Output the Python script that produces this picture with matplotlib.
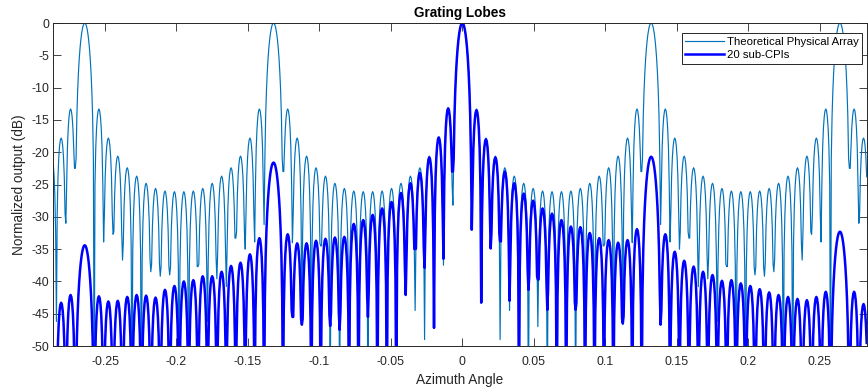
import numpy as np
import matplotlib
matplotlib.use('Agg')
import matplotlib.pyplot as plt

plt.rcParams['font.family'] = ['Liberation Sans', 'DejaVu Sans']
plt.rcParams['axes.unicode_minus'] = False

# ------------------------- #
# Data (dB)
# ------------------------- #

# lobe grid: grating lobes every 0.1321, 20 null spacings between them
grating_step = 0.1321
nulls_per_grating = 20

# physical array: sidelobe peaks between two neighbouring main/grating lobes
phys_sidelobe_db = [-13.3, -17.8, -20.6, -22.4, -23.7, -24.8, -25.6, -26.0, -26.1,
                    -26.1, -26.0, -25.6, -24.8, -23.7, -22.4, -20.6, -17.8, -13.3]

# physical array: depth of nulls 1..43 (mirror on negative side), nan = lobe peak
phys_null_db = [-28.2, -37.5, -34.9, -49.0, -44.5, -42.0, -60.0, -47.0, -60.0, -60.0,
                -60.0, -60.0, -60.0, -60.0, -34.5, -60.0, -46.7, -34.0, -23.0, np.nan,
                -31.2, -33.9, -35.0, -33.3, -40.8, -39.6, -46.2, -37.7, -60.0, -60.0,
                -39.0, -39.2, -38.5, -60.0, -60.0, -36.7, -32.7, -33.9, -60.0, np.nan,
                -22.5, -31.0, -46.2]

# 20 sub-CPIs: lobe peaks from left (-43.5) to right (+43.5), grating lobes included
cpi_peak_db = [-49.0, -43.3, -42.1,
               -34.4,
               -42.3, -43.1, -43.0, -42.4, -42.1, -42.2, -42.5, -41.3, -40.7,
               -40.0, -39.8, -39.2, -39.2, -38.5, -37.6, -37.1, -35.8, -33.3,
               -21.6,
               -32.7, -34.1, -34.1, -33.7, -33.4, -33.2, -33.1, -31.1, -30.5,
               -29.7, -28.7, -27.7, -26.3, -24.8, -23.2, -20.8, -17.7, -13.2,
               0.0,
               -13.5, -18.0, -20.8, -23.0, -24.8, -26.4, -27.5, -28.7, -29.5,
               -30.5, -31.5, -31.6, -32.5, -33.3, -33.6, -34.0, -33.6, -31.9,
               -20.7,
               -32.7, -35.4, -36.8, -37.7, -38.5, -39.0, -39.9, -39.8, -40.3,
               -40.7, -41.2, -41.7, -42.1, -42.4, -42.7, -42.9, -42.4, -41.6,
               -32.3,
               -41.6, -43.5, -45.0]

# 20 sub-CPIs: nulls that stay above the floor (index -> dB)
cpi_null_db = {-18: -45.5, -17: -46.7, -14: -46.9, -13: -47.5, -10: -45.5,
               -6: -42.1, -5: -35.0, -4: -37.9, -3: -47.2, -2: -36.5, -1: -23.0,
               1: -32.0, 2: -43.3, 3: -34.9, 4: -33.8, 5: -43.0, 7: -41.3,
               8: -39.7, 9: -44.4, 12: -44.4, 17: -46.5, 21: -46.7}
deep_null_db = -60.0

xtick_vals = [-0.25, -0.2, -0.15, -0.1, -0.05, 0, 0.05, 0.1, 0.15, 0.2, 0.25]
xtick_labels = ['-0.25', '-0.2', '-0.15', '-0.1', '-0.05', '0',
                '0.05', '0.1', '0.15', '0.2', '0.25']
ytick_vals = list(range(-50, 1, 5))
ytick_labels = [str(v) for v in ytick_vals]

# ------------------------- #
# Lobe construction
# ------------------------- #

def lobe_centres(lo=-44, hi=44):
    """ Lobe centres in null-spacing units: integer = main/grating, x.5 = sidelobe. """
    out = []
    for g in range(-3, 3):
        base = g * nulls_per_grating
        out.append(base)
        out += [base + 1.5 + j for j in range(nulls_per_grating - 2)]
    out.append(3 * nulls_per_grating)
    return [c for c in out if lo <= c <= hi]


def phys_null(n):
    n = abs(int(round(n)))
    if 1 <= n <= len(phys_null_db) and not np.isnan(phys_null_db[n - 1]):
        return phys_null_db[n - 1]
    return deep_null_db


def cpi_null(n):
    return cpi_null_db.get(int(round(n)), deep_null_db)


def build_curve(centres, peaks, null_depth):
    step = grating_step / nulls_per_grating
    xs, ys = [], []
    for i, (c, p) in enumerate(zip(centres, peaks)):
        half = 1.0 if float(c).is_integer() else 0.5
        a, b = c - half, c + half
        npts = 25 if half == 1.0 else 13
        t = np.linspace(0, 1, npts)[1:-1]
        u = a + t * (b - a)
        if half == 1.0:
            shape = np.abs(np.sinc(u - c))
        else:
            shape = np.sin(np.pi * t)
        y = p + 20 * np.log10(shape)
        floor = np.where(t < 0.5, null_depth(a), null_depth(b))
        y = np.maximum(y, floor)
        if i == 0:
            xs.append(a); ys.append(null_depth(a))
        xs += list(u); ys += list(y)
        xs.append(b); ys.append(null_depth(b))
    return np.array(xs) * step, np.array(ys)


centres = lobe_centres()
phys_peaks = []
for c in centres:
    if float(c).is_integer():
        phys_peaks.append(0.0)
    else:
        phys_peaks.append(phys_sidelobe_db[int((c - 1.5) % nulls_per_grating)])

x_phys, y_phys = build_curve(centres, phys_peaks, phys_null)
x_cpi, y_cpi = build_curve(centres, cpi_peak_db, cpi_null)

# ------------------------- #
# Plot
# ------------------------- #

fig = plt.figure(figsize=(8.68, 3.90), dpi=100)
ax = fig.add_axes([0.0614, 0.1128, 0.9369, 0.8282])

ax.plot(x_phys, y_phys, color='#0072BD', lw=0.85, label='Theoretical Physical Array')
ax.plot(x_cpi, y_cpi, color='#0000FF', lw=1.8, label='20 sub-CPIs')

ax.set_xlim(-0.2862, 0.2828)
ax.set_ylim(-50, 0)
ax.set_xticks(xtick_vals)
ax.set_xticklabels(xtick_labels)
ax.set_yticks(ytick_vals)
ax.set_yticklabels(ytick_labels)
ax.tick_params(direction='in', length=6, width=0.6, top=True, right=True,
               colors='#262626', labelsize=8.9)
ax.tick_params(axis='x', pad=7)
ax.tick_params(axis='y', pad=3)
for s in ax.spines.values():
    s.set_color('#262626')
    s.set_linewidth(0.7)

ax.set_title('Grating Lobes', fontsize=9.8, fontweight='bold', color='black', pad=4)
ax.set_xlabel('Azimuth Angle', fontsize=9.8, color='#262626', labelpad=4)
ax.set_ylabel('Normalized output (dB)', fontsize=9.8, color='#262626', labelpad=4)

leg = ax.legend(loc='upper right', bbox_to_anchor=(0.9948, 0.968), borderaxespad=0,
                fontsize=8.2, handlelength=3.4, handletextpad=0.25, borderpad=0.3,
                labelspacing=0.3, fancybox=False, framealpha=1)
leg.get_frame().set_edgecolor('#262626')
leg.get_frame().set_linewidth(0.7)

fig.savefig('out.png', dpi=100)
